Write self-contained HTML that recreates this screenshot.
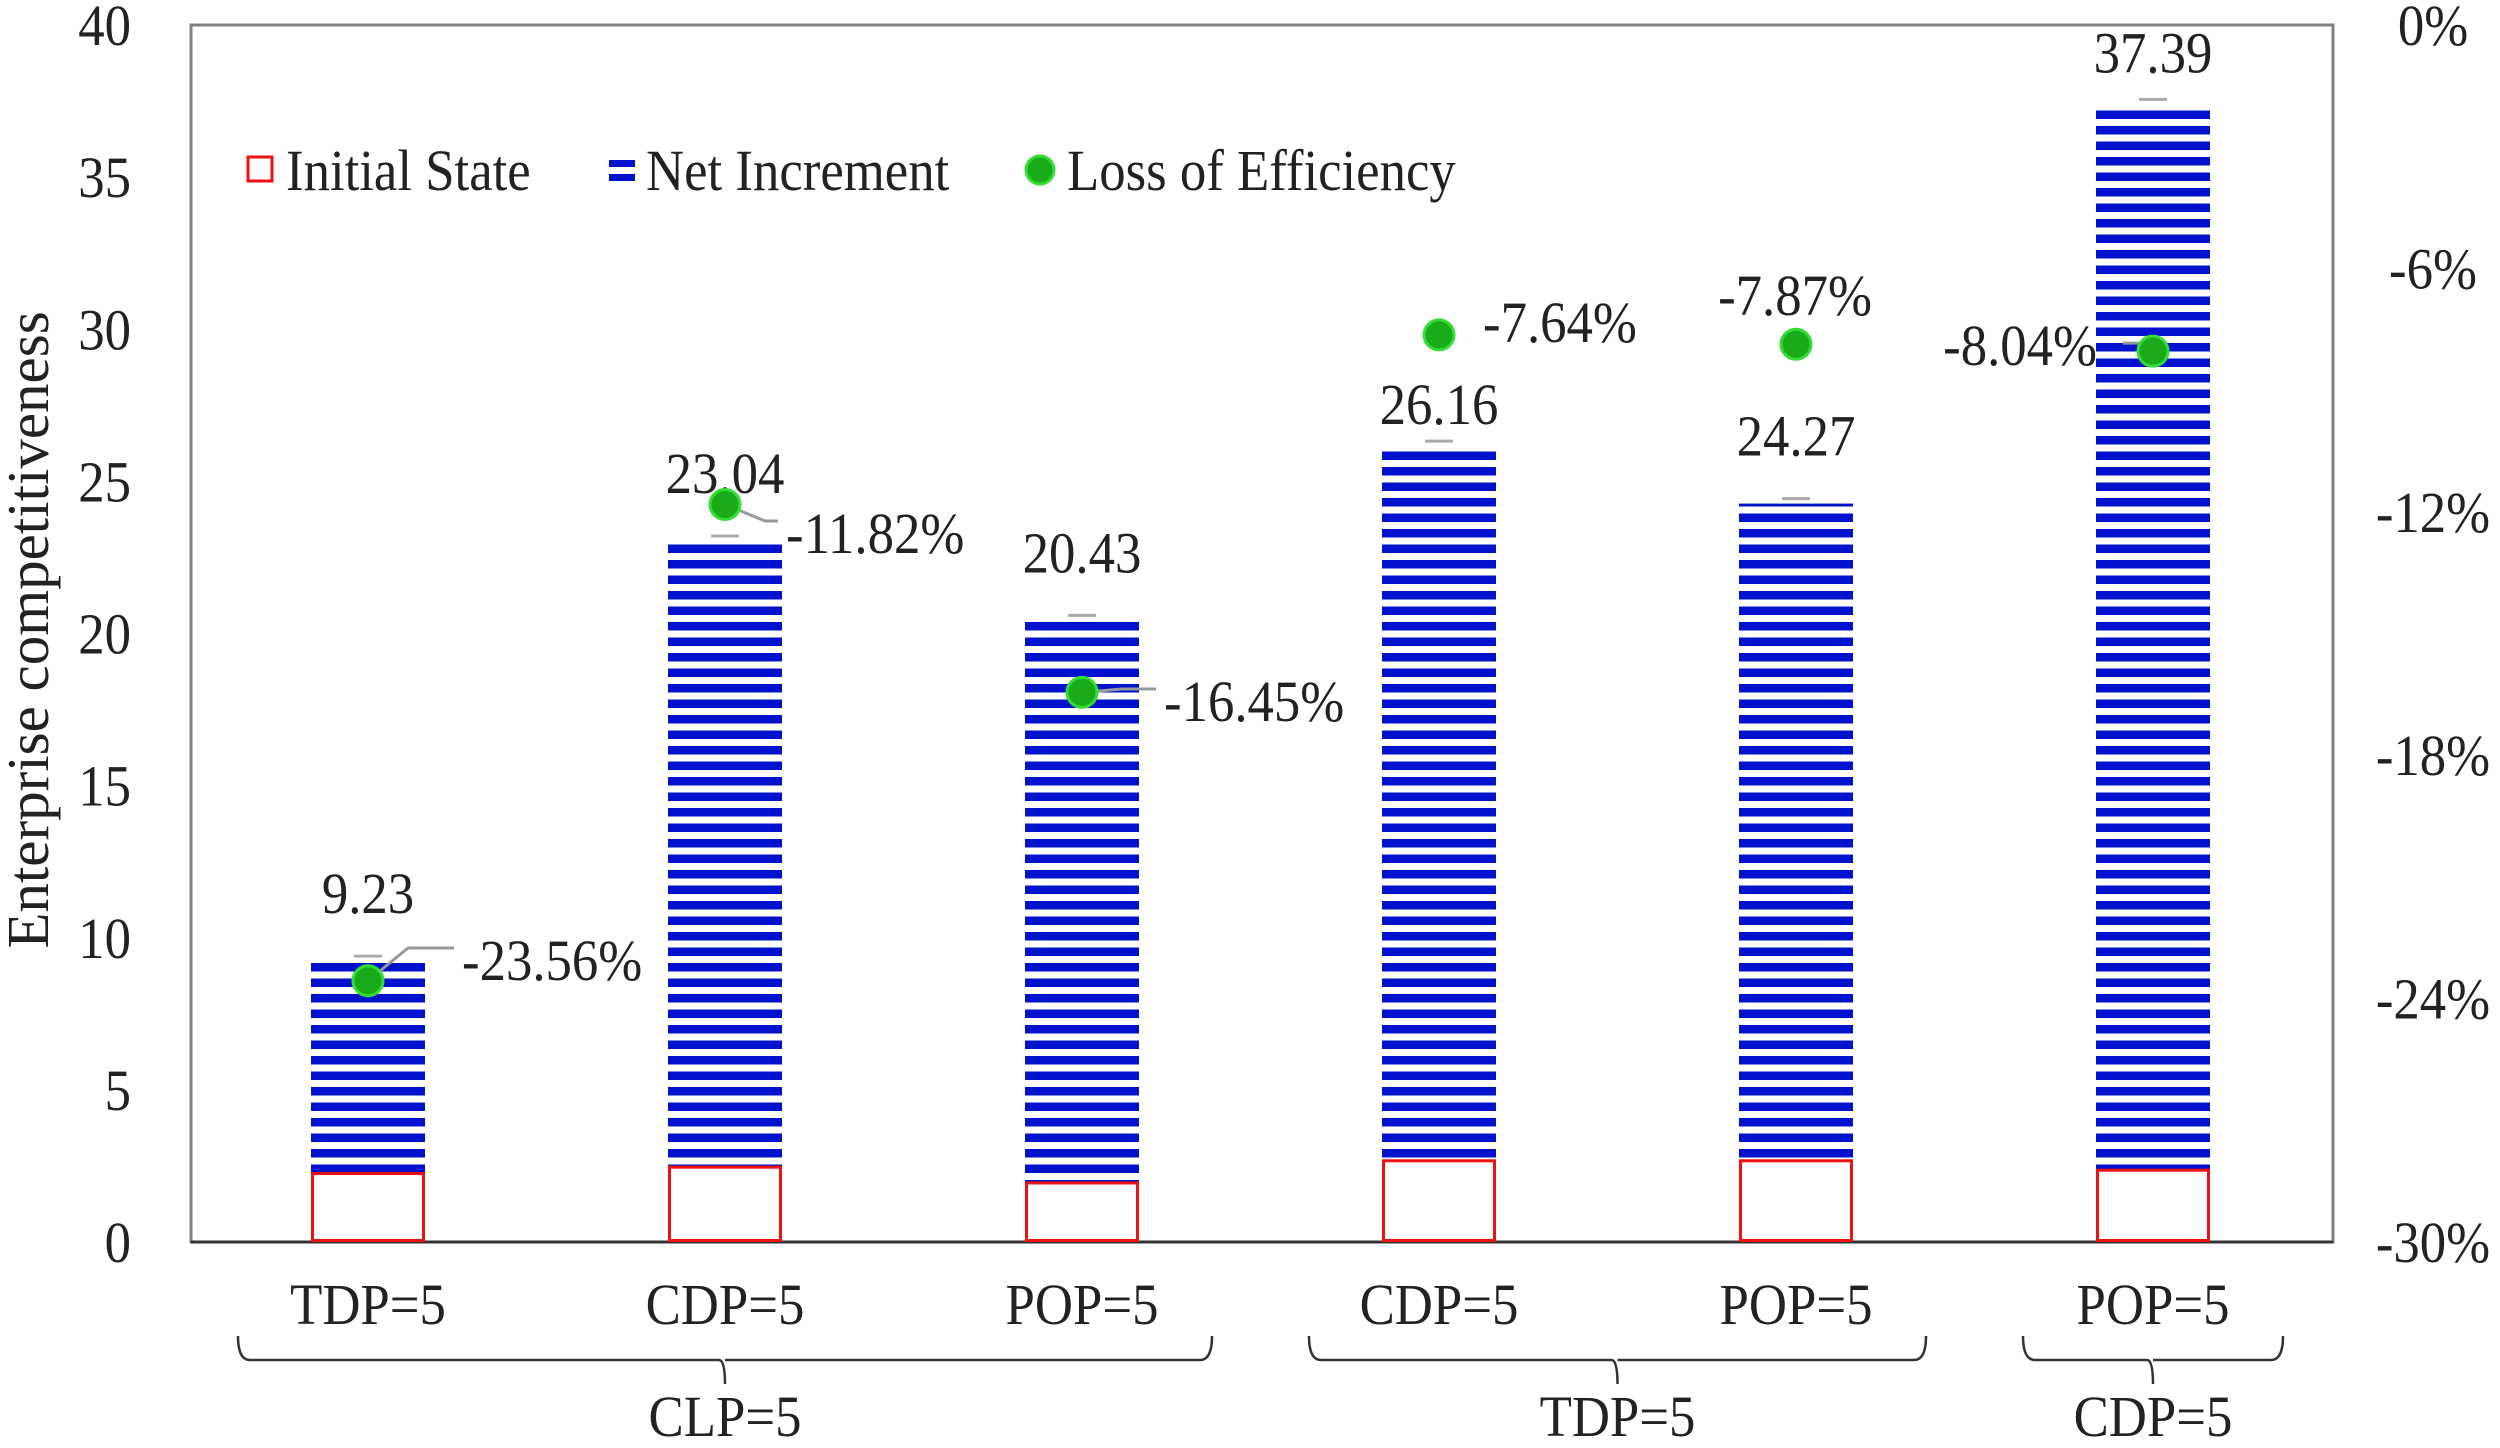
<!DOCTYPE html>
<html><head><meta charset="utf-8"><style>
html,body{margin:0;padding:0;background:#fff;}
svg{display:block;font-family:"Liberation Serif",serif;}
</style></head><body>
<svg id="chart" width="2500" height="1448" viewBox="0 0 2500 1448">
<defs>
<pattern id="stripes" patternUnits="userSpaceOnUse" width="20" height="15.5" y="1242">
<rect x="0" y="0" width="20" height="8.5" fill="#0012cc"/>
</pattern>
</defs>
<g id="g"></g>
</svg>
<script>
const categories = ["TDP=5","CDP=5","POP=5","CDP=5","POP=5","POP=5"];
const initialState = [2.25, 2.46, 1.94, 2.67, 2.67, 2.36];
const totals = [9.23, 23.04, 20.43, 26.16, 24.27, 37.39];
const lossLabels = ["-23.56%","-11.82%","-16.45%","-7.64%","-7.87%","-8.04%"];
const loss = [-23.56, -11.82, -16.45, -7.64, -7.87, -8.04];
const leftTicks = [0,5,10,15,20,25,30,35,40];
const rightTicks = [0,-6,-12,-18,-24,-30];
const groups = [{label:"CLP=5", from:0, to:2},{label:"TDP=5", from:3, to:4},{label:"CDP=5", from:5, to:5}];

const NS="http://www.w3.org/2000/svg";
const g=document.getElementById('g');
const L=191, R=2333, T=25, B=1242;
const ymap=v=>B-(v/40)*(B-T);
const y2map=p=>T+(-p/30)*(B-T);
const xc=i=>368+i*357;
const bw=114;
const FS=58, SX=0.91, BO=20;
function mk(tag,attrs,parent){const e=document.createElementNS(NS,tag);for(const k in attrs)e.setAttribute(k,attrs[k]);(parent||g).appendChild(e);return e;}
function txt(s,x,y,anchor,parent){const e=mk('text',{'font-size':FS,fill:'#222','text-anchor':anchor||'start',x:0,y:0,transform:`translate(${x},${y}) scale(${SX},1)`},parent);e.textContent=s;return e;}

const frame=mk('rect',{x:L,y:T,width:R-L,height:B-T,fill:'none',stroke:'#7f7f7f','stroke-width':3});


const base=mk('line',{x1:L,y1:B,x2:R,y2:B,stroke:'#333','stroke-width':3});



leftTicks.forEach(v=>{const t=txt(String(v),131,ymap(v)+BO,'end');

});
rightTicks.forEach(v=>{const t=txt(v+'%',2433,y2map(v)+BO,'middle');

});

const yt=mk('text',{'font-size':59,fill:'#222','text-anchor':'middle',x:0,y:0,transform:'translate(48,630) rotate(-90)'});
yt.textContent='Enterprise competitiveness';



const labelOffset=[48,48,48,22,48,32];
const lossPos=[[462,960,'start'],[786,533,'start'],[1164,701,'start'],[1483,322,'start'],[1795,295,'middle'],[2097,345,'end']];
const hasLeader=[true,true,true,false,false,true];
categories.forEach((c,i)=>{
  const x=xc(i);
  const nb=mk('rect',{x:x-bw/2,y:ymap(totals[i]),width:bw,height:ymap(initialState[i])-ymap(totals[i]),fill:'url(#stripes)'});
  
  
  const ib=mk('rect',{x:x-bw/2+1.5,y:ymap(initialState[i]),width:bw-3,height:B-ymap(initialState[i])-1.5,fill:'#fff',stroke:'#ee1111','stroke-width':3});
  
  
  const cap=mk('line',{x1:x-14,y1:ymap(totals[i])-5,x2:x+14,y2:ymap(totals[i])-5,stroke:'#aaa','stroke-width':3});
  
  
  const vl=txt(totals[i].toFixed(2),x,ymap(totals[i])-labelOffset[i],'middle');
  
  
  const dy=y2map(loss[i]);
  const lp=lossPos[i];
  if(hasLeader[i]){
    let pts;
    if(lp[2]==='start') pts=`${x},${dy} ${x+40},${lp[1]-12} ${lp[0]-8},${lp[1]-12}`;
    else pts=`${x},${dy} ${x-10},${dy-8} ${x-30},${dy-8}`;
    const ld=mk('polyline',{points:pts,fill:'none',stroke:'#999','stroke-width':3});
    
    
  }
  const dot=mk('circle',{cx:x,cy:dy,r:15,fill:'#1aaa1a',stroke:'#33dd33','stroke-width':3});
  
  
  const ll=txt(lossLabels[i],lp[0],lp[1]+BO,lp[2]);
  
  
  const cl=txt(c,x,1304+BO,'middle');
  
  
});

groups.forEach(gr=>{
  const x1=xc(gr.from)-130, x2=xc(gr.to)+130, m=(x1+x2)/2;
  const br=mk('path',{d:`M${x1},1336 Q${x1},1360 ${x1+12},1360 L${m-6},1360 Q${m},1360 ${m},1384 M${m},1360 L${x2-12},1360 Q${x2},1360 ${x2},1336`,fill:'none',stroke:'#333','stroke-width':2.5});
  
  
  const gl=txt(gr.label,m,1416+BO,'middle');
  
  
});

const lg=mk('g',{});


const l1=mk('rect',{x:248,y:157,width:24,height:24,fill:'#fff',stroke:'#ee1111','stroke-width':3},lg);


const l1t=txt('Initial State',286,170+BO,'start',lg);


const l2a=mk('rect',{x:609,y:160,width:26,height:7,fill:'#0012cc'},lg);


const l2b=mk('rect',{x:609,y:174,width:26,height:7,fill:'#0012cc'},lg);


const l2t=txt('Net Increment',646,170+BO,'start',lg);


const l3=mk('circle',{cx:1040,cy:170,r:14,fill:'#1aaa1a',stroke:'#33dd33','stroke-width':3},lg);


const l3t=txt('Loss of Efficiency',1067,170+BO,'start',lg);


</script>
</body></html>
